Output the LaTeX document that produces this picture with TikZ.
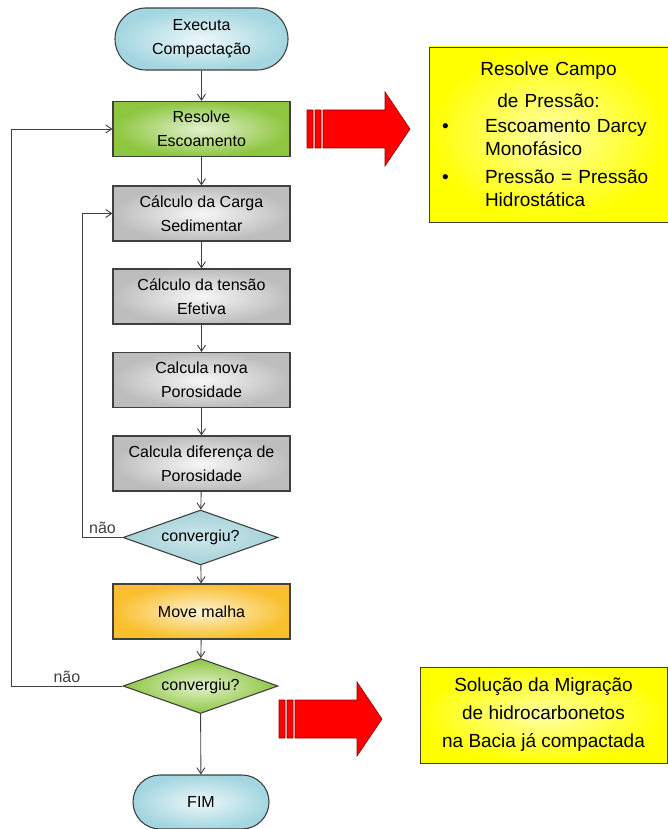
\documentclass[tikz,border=0pt]{standalone}
\usepackage{fontspec}
\setmainfont{Liberation Sans}
\usetikzlibrary{arrows.meta, shapes.geometric, shapes.misc, positioning}
\definecolor{fcCyan}{HTML}{A3D6E0}
\definecolor{fcTeal}{HTML}{A4D2D9}
\definecolor{fcGreen}{HTML}{8DC63F}
\definecolor{fcGrey}{HTML}{BDBDBD}
\definecolor{fcOrange}{HTML}{F9BF2C}
\definecolor{fcYellow}{HTML}{FFFF00}
\definecolor{fcLine}{HTML}{404040}
\definecolor{fcRed}{HTML}{FF0000}
\tikzset{
  flow/.style     = {-{Straight Barb[length=6pt,width=8pt]}, line width=0.9pt, fcLine},
  boxtxt/.style   = {font=\fontsize{16}{24}\selectfont, align=center, inner sep=2pt},
  lbl/.style      = {font=\fontsize{16}{19}\selectfont, inner sep=3pt},
  edge/.style     = {draw=fcLine, line width=1.1pt},
  redarrow/.pic   = {
    \filldraw[fill=fcRed, draw=fcRed!55!black, line width=0.6pt]
      (0,-19) rectangle (6,19) (8,-19) rectangle (14,19)
      (16,-19) -- (78,-19) -- (78,-37) -- (103,0) -- (78,37) -- (78,19) -- (16,19) -- cycle;
  },
}

\begin{document}
\begin{tikzpicture}[x=1pt,y=-1pt,
    term/.style={rounded rectangle, edge, boxtxt, shade, inner color=fcCyan!20!white, outer color=fcCyan},
    proc/.style={rectangle, edge, boxtxt, minimum width=177pt, minimum height=55pt},
    dec/.style={diamond, aspect=2.8, edge, boxtxt, minimum width=155pt, minimum height=55pt, inner sep=0pt},
    note/.style={rectangle, draw=fcLine, line width=0.9pt, shade, inner color=fcYellow!35!white, outer color=fcYellow,
                 font=\fontsize{19}{23}\selectfont}]
  \useasboundingbox (0,0) rectangle (668,829);
  \node[term, minimum width=177pt, minimum height=62pt] (start) at (201.5,39) {Executa\\Compactação};
  \node[proc, shade, inner color=fcGreen!25!white, outer color=fcGreen] (resolve) at (201.5,129) {Resolve\\Escoamento};
  \node[proc, shade, inner color=fcGrey!12!white, outer color=fcGrey] (carga) at (201.5,213.5) {Cálculo da Carga\\Sedimentar};
  \node[proc, shade, inner color=fcGrey!12!white, outer color=fcGrey] (tensao) at (201.5,296.5) {Cálculo da tensão\\Efetiva};
  \node[proc, shade, inner color=fcGrey!12!white, outer color=fcGrey] (poro) at (201.5,380) {Calcula nova\\Porosidade};
  \node[proc, shade, inner color=fcGrey!12!white, outer color=fcGrey] (difporo) at (201.5,463.5) {Calcula diferença de\\Porosidade};
  \node[dec, shade, inner color=fcTeal!55!white, outer color=fcTeal] (conv1) at (200.5,537.5) {convergiu?};
  \node[proc, shade, inner color=fcOrange!20!white, outer color=fcOrange] (malha) at (201.5,611.5) {Move malha};
  \node[dec, shade, inner color=fcGreen!25!white, outer color=fcGreen] (conv2) at (200.5,686) {convergiu?};
  \node[term, minimum width=140pt, minimum height=54pt] (fim) at (201,802) {FIM};

  % main flow
  \draw[flow] (start) -- (resolve);
  \draw[flow] (resolve) -- (carga);
  \draw[flow] (carga) -- (tensao);
  \draw[flow] (tensao) -- (poro);
  \draw[flow] (poro) -- (difporo);
  \draw[flow] (difporo) -- (conv1);
  \draw[flow] (conv1) -- (malha);
  \draw[flow] (malha) -- (conv2);
  \draw[flow] (conv2) -- (fim);
  % loops back
  \draw[flow] (conv1.west) -- ++(-40,0) node[lbl, midway, above] {não} |- (carga.west);
  \draw[flow] (conv2.west) -- ++(-111,0) node[lbl, midway, above] {não} |- (resolve.west);

  % side notes
  \pic at (307,129) {redarrow};
  \node[note, minimum width=239pt, minimum height=175pt, text width=223pt, inner sep=8pt] (campo) at (548.5,134.5) {%
    {\centering Resolve Campo\\[9pt]de Pressão:\par}\vspace{2pt}
    \raggedright\noindent\hangindent=48pt\hangafter=1\makebox[48pt][l]{\hspace{5pt}\textbullet}Escoamento Darcy\newline Monofásico\par
    \vspace{5pt}
    \noindent\hangindent=48pt\hangafter=1\makebox[48pt][l]{\hspace{5pt}\textbullet}Pressão = Pressão\newline Hidrostática\par};
  \pic at (279,719) {redarrow};
  \node[note, minimum width=247pt, minimum height=96pt, align=center, font=\fontsize{19}{28}\selectfont] (migra) at (543.5,715)
    {Solução da Migração\\de hidrocarbonetos\\na Bacia já compactada};
\end{tikzpicture}
\end{document}
